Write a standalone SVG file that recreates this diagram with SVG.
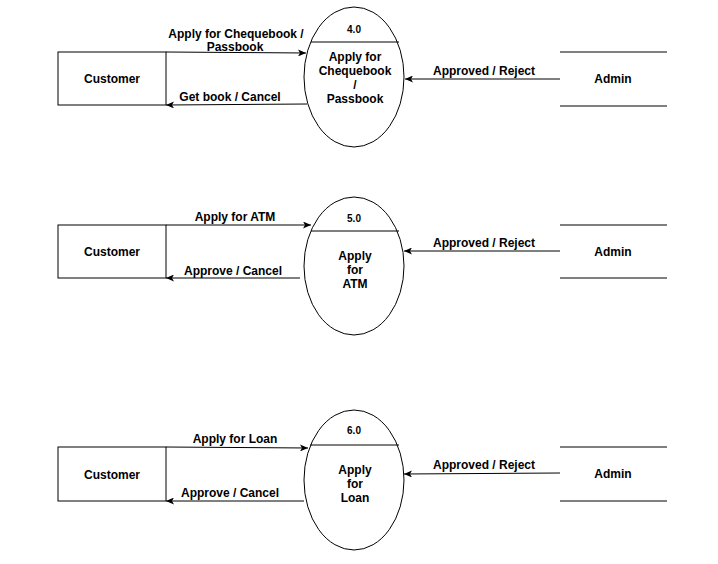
<svg xmlns="http://www.w3.org/2000/svg" width="718" height="564" viewBox="0 0 718 564">
<style>
text{font-family:"Liberation Sans",Arial,sans-serif;font-weight:bold;font-size:12px;fill:#000;text-anchor:middle}
.num{font-size:10px}
.box{fill:#fff;stroke:#000;stroke-width:1}
.proc{fill:#fff;stroke:#000;stroke-width:1}
.ln{stroke:#000;stroke-width:1;fill:none}
.flow{stroke:#000;stroke-width:1;fill:none;marker-end:url(#arr)}
</style>
<defs>
<marker id="arr" viewBox="0 0 8 7" refX="8" refY="3.5" markerWidth="8" markerHeight="7" markerUnits="userSpaceOnUse" orient="auto">
<path d="M0,0 L8,3.5 L0,7 L2,3.5 z" fill="#000"/>
</marker>
</defs>
<rect width="718" height="564" fill="#fff"/>

<g id="connectors">
<path class="flow" d="M166,52 L306,53"/>
<path class="flow" d="M307,104 L166,105"/>
<path class="flow" d="M560,79 L405,79"/>
<path class="flow" d="M166,225 L311,225"/>
<path class="flow" d="M300,278 L166,278"/>
<path class="flow" d="M560,251 L404,251"/>
<path class="flow" d="M166,447 L308,448"/>
<path class="flow" d="M304,501 L166,501"/>
<path class="flow" d="M560,473 L404,474"/>
<text x="236" y="38">Apply for Chequebook /</text>
<text x="235" y="51">Passbook</text>
<text x="230" y="101">Get book / Cancel</text>
<text x="484" y="75">Approved / Reject</text>
<text x="235" y="221">Apply for ATM</text>
<text x="233" y="275">Approve / Cancel</text>
<text x="484" y="247">Approved / Reject</text>
<text x="235" y="443">Apply for Loan</text>
<text x="230" y="497">Approve / Cancel</text>
<text x="484" y="469">Approved / Reject</text>
</g>

<g id="customer1">
<rect class="box" x="58" y="52" width="108" height="53"/>
<text x="112" y="83">Customer</text>
</g>
<g id="process4">
<ellipse class="proc" cx="354" cy="77" rx="50" ry="70"/>
<line class="ln" x1="311" y1="42" x2="399" y2="42"/>
<text class="num" x="354" y="33">4.0</text>
<text x="355" y="61">Apply for</text>
<text x="355" y="75">Chequebook</text>
<text x="355" y="89">/</text>
<text x="355" y="103">Passbook</text>
</g>
<g id="admin1">
<line class="ln" x1="560" y1="52" x2="667" y2="52"/>
<line class="ln" x1="560" y1="106" x2="667" y2="106"/>
<text x="613" y="83">Admin</text>
</g>

<g id="customer2">
<rect class="box" x="58" y="225" width="108" height="53"/>
<text x="112" y="256">Customer</text>
</g>
<g id="process5">
<ellipse class="proc" cx="354" cy="266" rx="50" ry="69"/>
<line class="ln" x1="311" y1="231" x2="399" y2="231"/>
<text class="num" x="354" y="222">5.0</text>
<text x="355" y="260">Apply</text>
<text x="355" y="274">for</text>
<text x="355" y="288">ATM</text>
</g>
<g id="admin2">
<line class="ln" x1="560" y1="225" x2="667" y2="225"/>
<line class="ln" x1="560" y1="278" x2="667" y2="278"/>
<text x="613" y="256">Admin</text>
</g>

<g id="customer3">
<rect class="box" x="58" y="447" width="108" height="54"/>
<text x="112" y="479">Customer</text>
</g>
<g id="process6">
<ellipse class="proc" cx="354" cy="480" rx="50" ry="70"/>
<line class="ln" x1="310" y1="445" x2="399" y2="445"/>
<text class="num" x="354" y="434">6.0</text>
<text x="355" y="474">Apply</text>
<text x="355" y="488">for</text>
<text x="355" y="502">Loan</text>
</g>
<g id="admin3">
<line class="ln" x1="560" y1="447" x2="667" y2="447"/>
<line class="ln" x1="560" y1="501" x2="667" y2="501"/>
<text x="613" y="478">Admin</text>
</g>
</svg>
